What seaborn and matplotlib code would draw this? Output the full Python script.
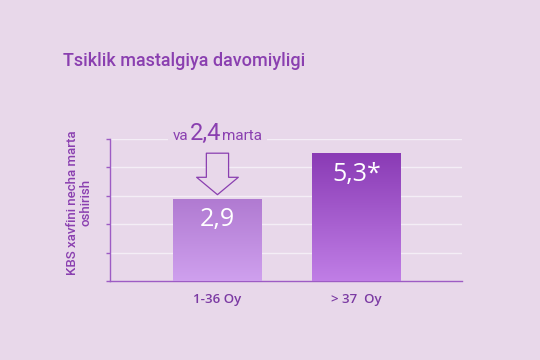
import numpy as np
import pandas as pd
import matplotlib
matplotlib.use("Agg")
import matplotlib.pyplot as plt
import seaborn as sns
from matplotlib.colors import LinearSegmentedColormap
from matplotlib.offsetbox import TextArea, HPacker, AnnotationBbox

# ---- data ----
categories = ["1-36 Oy", "> 37  Oy"]
bar_heights = [2.9, 4.5]          # visual heights as drawn in the reference
value_labels = ["2,9", "5,3*"]
callout_parts = ["va", "2,4", "marta"]
title = "Tsiklik mastalgiya davomiyligi"
ylabel = "KBS xavfini necha marta\noshirish"
yticks = [0, 1, 2, 3, 4, 5]

BG = "#e8d8ea"
PURPLE = "#8a3fb0"
AXIS = "#9d5cc4"
GRID = "#f4eef6"
grad_colors = [("#cfa0ee", "#b07ad1"), ("#c07ee6", "#8a3bb5")]  # (bottom, top)

sns.set_theme(style="white")
plt.rcParams["font.family"] = ["Open Sans", "DejaVu Sans"]

fig = plt.figure(figsize=(5.4, 3.6), dpi=100, facecolor=BG)
ax = fig.add_axes([110/540, 1-281/360, 352/540, 142/360])
ax.set_facecolor(BG)

df = pd.DataFrame({"cat": categories, "val": bar_heights})
sns.barplot(data=df, x="cat", y="val", ax=ax, width=0.64, color="#b07bd2",
            edgecolor="none", zorder=3)

# gradients
for p, (c0, c1) in zip(ax.patches, grad_colors):
    x0, y0 = p.get_x(), p.get_y()
    w, h = p.get_width(), p.get_height()
    cmap = LinearSegmentedColormap.from_list("g", [c0, c1])
    grad = np.linspace(0, 1, 256).reshape(-1, 1)
    im = ax.imshow(grad, extent=[x0, x0 + w, y0, y0 + h], origin="lower",
                   aspect="auto", cmap=cmap, zorder=3)
    im.set_clip_path(p)
    p.set_alpha(0)

ax.set_xlim(-0.773, 1.759)
ax.set_ylim(0, 5)

# grid & spines
ax.set_yticks(yticks)
ax.set_yticklabels([])
for y in yticks[1:]:
    ax.axhline(y, color=GRID, lw=1.0, zorder=1)
for s in ["top", "right"]:
    ax.spines[s].set_visible(False)
for s in ["left", "bottom"]:
    ax.spines[s].set_color(AXIS)
    ax.spines[s].set_linewidth(1.0)
ax.tick_params(axis="y", length=3, width=1, color=AXIS, direction="out", left=True)
ax.tick_params(axis="x", length=0, pad=9, labelsize=9.5, labelcolor="#7b3aa3")
for t in ax.get_xticklabels():
    t.set_fontweight("semibold")
ax.set_xlabel("")
ax.set_ylabel(ylabel, color=PURPLE, fontsize=9.5, fontfamily="Roboto",
              fontweight="medium", linespacing=1.05)
ax.yaxis.set_label_coords(-0.05, 0.55)

# value labels
for i, (h, lab) in enumerate(zip(bar_heights, value_labels)):
    ax.text(i, h - 0.74, lab, ha="center", va="center", color="white",
            fontsize=18, zorder=5)

# callout arrow (hollow)
ax.annotate("", xy=(0, bar_heights[0] + 0.14), xytext=(0, bar_heights[0] + 1.6),
            arrowprops=dict(arrowstyle="simple,head_length=1.25,head_width=3.0,tail_width=1.6",
                            mutation_scale=10,
                            fc=BG, ec=PURPLE, lw=0.9, shrinkA=0, shrinkB=0),
            zorder=6, annotation_clip=False)

# callout text
sizes = [11, 17, 11]
areas = [TextArea(t, textprops=dict(color=PURPLE, fontsize=s, family="Roboto"))
         for t, s in zip(callout_parts, sizes)]
pack = HPacker(children=areas, align="baseline", pad=0, sep=1)
ab = AnnotationBbox(pack, (0, 5.18), xycoords="data", frameon=True,
                    bboxprops=dict(fc=BG, ec="none"), pad=0.3,
                    annotation_clip=False, zorder=7)
ax.add_artist(ab)

fig.text(63/540, 1-61/360, title, color=PURPLE, fontsize=13.0,
         fontfamily="Roboto", fontweight="medium", va="center", ha="left")

fig.savefig("out.png", dpi=100, facecolor=BG)
